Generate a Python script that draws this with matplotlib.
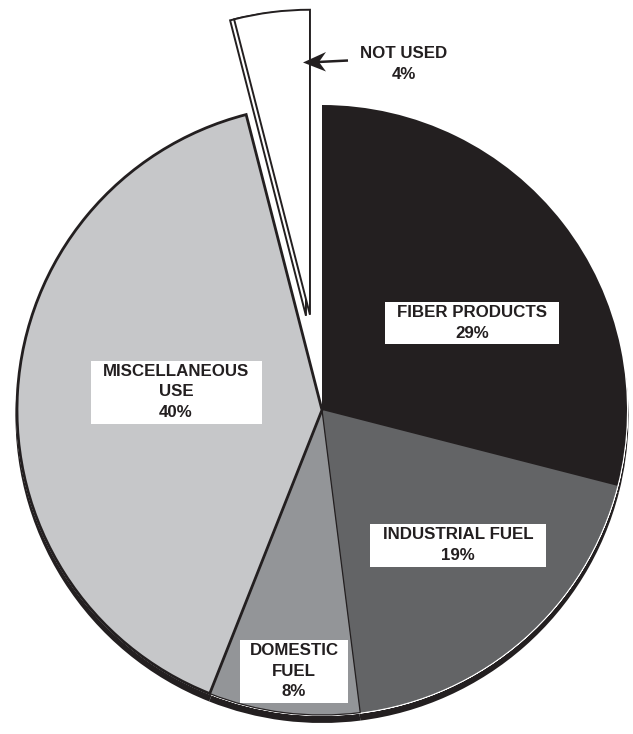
import matplotlib
matplotlib.use("Agg")
import matplotlib.pyplot as plt
from matplotlib.patches import Wedge, Rectangle, Polygon

# ---- data ----
categories = ["FIBER PRODUCTS", "INDUSTRIAL FUEL", "DOMESTIC FUEL", "MISCELLANEOUS USE", "NOT USED"]
shares = [29, 19, 8, 40, 4]
label_texts = ["FIBER PRODUCTS\n29%", "INDUSTRIAL FUEL\n19%", "DOMESTIC\nFUEL\n8%",
               "MISCELLANEOUS\nUSE\n40%", "NOT USED\n4%"]
colors = ["#231f20", "#636466", "#939598", "#c6c7c9", "#ffffff"]

# ---- layout (pixels, y up) ----
W, H = 633, 734
CENTER = (322, 324)
RADIUS = 305
EXPLODE = [0, 0, 0, 0, 96]
DEPTH = 6.5
TXT = "#231f20"

fig = plt.figure(figsize=(W / 100, H / 100), dpi=100)
ax = fig.add_axes([0, 0, 1, 1])

wedges, _ = ax.pie(shares, colors=colors, startangle=90, counterclock=False,
                   center=CENTER, radius=RADIUS, explode=EXPLODE,
                   wedgeprops=dict(linewidth=0, edgecolor="none"))
for w in wedges:
    w.set_zorder(2)

# 3D side / shadow: copies of the main slices pushed down
for w in wedges[:4]:
    ax.add_patch(Wedge((w.center[0], w.center[1] - DEPTH), w.r + 1.5, w.theta1, w.theta2,
                       facecolor="#231f20", edgecolor="none", zorder=1))
    ax.add_patch(Wedge(w.center, w.r + 0.3, w.theta1, w.theta2, width=0.01,
                       facecolor="none", edgecolor="white", lw=1.0, zorder=1.5))

# slice edges
wedges[3].set_edgecolor("#231f20"); wedges[3].set_linewidth(2.0)
wedges[2].set_edgecolor("#231f20"); wedges[2].set_linewidth(0.9)
nu = wedges[4]
nu.set_edgecolor("#231f20"); nu.set_linewidth(1.4); nu.set_zorder(3)
# side of exploded slice (double line)
side = Wedge((nu.center[0] - 4, nu.center[1] - 1), nu.r, nu.theta1, nu.theta2,
             facecolor="white", edgecolor="#231f20", lw=1.4, zorder=2.5)
ax.add_patch(side)

font = dict(family=["Liberation Sans", "DejaVu Sans"], fontweight="bold", fontsize=12.2,
            color=TXT, ha="center", va="center", linespacing=1.45, zorder=6)

# label boxes: (x0, y0, w, h) and text centers
boxes = [(385, 734 - 344, 174, 42), (370, 734 - 567, 176, 43), (240, 734 - 703, 108, 63),
         (91, 734 - 424, 171, 63)]
centers = [(472, 734 - 323), (458, 734 - 545), (294, 734 - 671), (176, 734 - 392)]
for (x0, y0, bw, bh), (cx, cy), t in zip(boxes, centers, label_texts[:4]):
    ax.add_patch(Rectangle((x0, y0), bw, bh, facecolor="white", edgecolor="none", zorder=5))
    ax.text(cx, cy, t, **font)

# pointer arrow for NOT USED (stealth head)
ax.plot([318, 348], [734 - 62, 734 - 60.5], color="#231f20", lw=1.8, zorder=6,
        solid_capstyle="butt")
ax.add_patch(Polygon([(303, 734 - 62.5), (326, 734 - 52), (319, 734 - 62), (326, 734 - 71.5)],
                     closed=True, facecolor="#231f20", edgecolor="none", zorder=6))
ax.text(404, 734 - 64, label_texts[4], **font)

ax.set_xlim(0, W)
ax.set_ylim(0, H)
ax.set_aspect("equal")
ax.axis("off")
fig.savefig("out.png", dpi=100, facecolor="white")
